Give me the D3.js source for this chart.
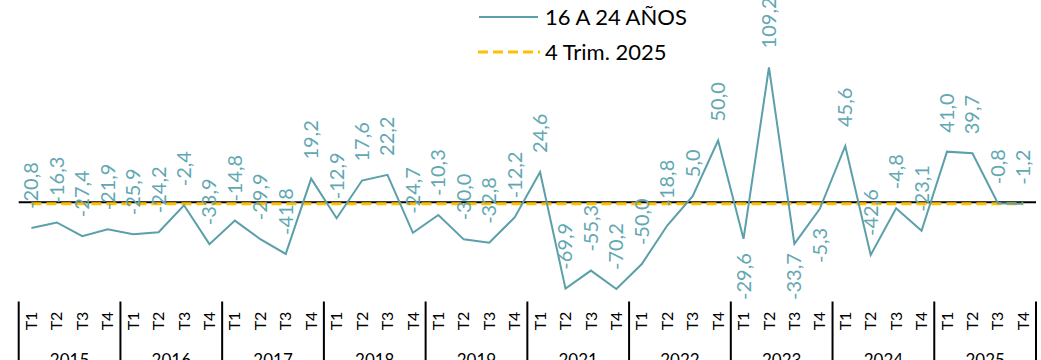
<!DOCTYPE html>
<html>
<head>
<meta charset="utf-8">
<script src="https://cdn.jsdelivr.net/npm/d3@7"></script>
<style>
  html, body { margin: 0; padding: 0; background: #fff; }
  svg { display: block; font-family: Lato, "Open Sans", sans-serif; }
</style>
</head>
<body>
<svg id="chart" width="1041" height="360"></svg>
<script>
// ---- data ----
const years = ["2015", "2016", "2017", "2018", "2019", "2021", "2022", "2023", "2024", "2025"];
const quarters = ["T1", "T2", "T3", "T4"];
const values = [
  -20.8, -16.3, -27.4, -21.9,
  -25.9, -24.2, -2.4, -33.9,
  -14.8, -29.9, -41.8, 19.2,
  -12.9, 17.6, 22.2, -24.7,
  -10.3, -30.0, -32.8, -12.2,
  24.6, -69.9, -55.3, -70.2,
  -50.0, -18.8, 5.0, 50.0,
  -29.6, 109.2, -33.7, -5.3,
  45.6, -42.6, -4.8, -23.1,
  41.0, 39.7, -0.8, -1.2
];
const referenceValue = -1.2; // 4 Trim. 2025
const seriesName = "16 A 24 AÑOS";
const referenceName = "4 Trim. 2025";
const labelsBelow = [28, 30, 31]; // indices whose data label sits under the point

// ---- layout ----
const svg = d3.select("#chart");
const lineColor = "#5B9FAA";
const labelColor = "#62A7B2";
const refColor = "#FFC000";
const plotTop = 30, plotBottom = 300;

const keys = [];
years.forEach(y => quarters.forEach(q => keys.push(y + "-" + q)));

const x = d3.scaleBand().domain(keys).range([18.7, 1036]).padding(0);
const y = d3.scaleLinear().domain([-79.1, 139.5]).range([plotBottom, plotTop]);
const cx = i => x(keys[i]) + x.bandwidth() / 2;

const fmt = v => d3.format(".1f")(v).replace(".", ",").replace("−", "-");

// zero axis line
svg.append("line")
  .attr("x1", x.range()[0]).attr("x2", x.range()[1])
  .attr("y1", y(0)).attr("y2", y(0))
  .attr("stroke", "#000").attr("stroke-width", 2);

// reference dashed line
svg.append("line")
  .attr("x1", cx(0)).attr("x2", cx(values.length - 1))
  .attr("y1", y(referenceValue)).attr("y2", y(referenceValue))
  .attr("stroke", refColor).attr("stroke-width", 3)
  .attr("stroke-dasharray", "10,5");

// series line
const line = d3.line().x((d, i) => cx(i)).y(d => y(d));
svg.append("path")
  .datum(values)
  .attr("d", line)
  .attr("fill", "none")
  .attr("stroke", lineColor)
  .attr("stroke-width", 2)
  .attr("stroke-linejoin", "miter");

// data labels
const gap = 19;
values.forEach((v, i) => {
  const below = labelsBelow.includes(i);
  const px = cx(i), py = y(v);
  const t = svg.append("text")
    .attr("fill", labelColor)
    .attr("font-size", 20)
    .attr("dy", "0.35em")
    .text(fmt(v));
  if (!below) {
    t.attr("text-anchor", "start")
     .attr("transform", `translate(${px},${py - gap}) rotate(-90)`);
  } else {
    const len = t.node().getComputedTextLength();
    let start = py + gap;
    if (start + len > plotBottom) start = plotBottom - len;
    t.attr("text-anchor", "end")
     .attr("transform", `translate(${px},${start}) rotate(-90)`);
  }
});

// category axis (quarters and years)
const axisTop = 301.5;
keys.forEach((k, i) => {
  svg.append("text")
    .attr("font-size", 16)
    .attr("fill", "#000")
    .attr("text-anchor", "middle")
    .attr("dy", "0.35em")
    .attr("transform", `translate(${cx(i)},${321}) rotate(-90)`)
    .text(quarters[i % 4]);
});
years.forEach((yr, j) => {
  const x0 = x(keys[j * 4]);
  const x1 = x(keys[j * 4 + 3]) + x.bandwidth();
  svg.append("text")
    .attr("font-size", 17)
    .attr("fill", "#000")
    .attr("text-anchor", "middle")
    .attr("x", (x0 + x1) / 2)
    .attr("y", 366)
    .text(yr);
});
const bounds = d3.range(0, keys.length + 1, 4).map(i =>
  i < keys.length ? x(keys[i]) : x.range()[1]);
svg.selectAll("line.sep").data(bounds).enter().append("line")
  .attr("class", "sep")
  .attr("x1", d => d).attr("x2", d => d)
  .attr("y1", axisTop).attr("y2", 360)
  .attr("stroke", "#000").attr("stroke-width", 2);

// legend
const lg = svg.append("g");
lg.append("line").attr("x1", 479).attr("x2", 538).attr("y1", 17).attr("y2", 17)
  .attr("stroke", lineColor).attr("stroke-width", 2);
lg.append("text").attr("x", 545).attr("y", 25).attr("font-size", 22).attr("fill", "#000")
  .text(seriesName);
lg.append("line").attr("x1", 478).attr("x2", 540).attr("y1", 52).attr("y2", 52)
  .attr("stroke", refColor).attr("stroke-width", 3).attr("stroke-dasharray", "10,5");
lg.append("text").attr("x", 545).attr("y", 60).attr("font-size", 22).attr("fill", "#000")
  .text(referenceName);
</script>
</body>
</html>
